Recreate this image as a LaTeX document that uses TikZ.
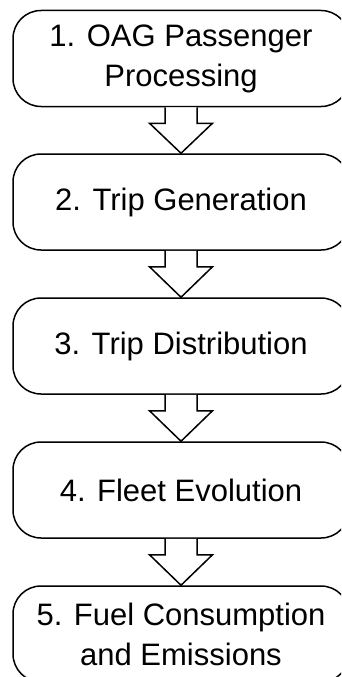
\documentclass[tikz,border=0pt]{standalone}
\usepackage{fontspec}
\setmainfont{Liberation Sans}
\usetikzlibrary{calc}
\begin{document}
\begin{tikzpicture}[x=1pt,y=-1pt,
  stepbox/.style={draw=black, line width=1.5pt, fill=white, rounded corners=28pt,
    minimum width=336pt, minimum height=96pt, inner sep=0pt, align=center,
    font=\fontsize{31}{40}\selectfont},
  flowarrow/.style={draw=black, line width=1.5pt, fill=white, line join=miter}]
\path[use as bounding box, clip] (0,0) rectangle (341,677);
\node[stepbox] (b1) at (181,58.5) {1. OAG Passenger\\Processing};
\node[stepbox] (b2) at (181,202) {2. Trip Generation};
\node[stepbox] (b3) at (181,346) {3. Trip Distribution};
\node[stepbox] (b4) at (181,490) {4. Fleet Evolution};
\node[stepbox] (b5) at (181,634) {5. Fuel Consumption\\and Emissions};
\foreach \a/\b in {b1/b2,b2/b3,b3/b4,b4/b5}{
  \draw[flowarrow] ($(\a.south)+(-16,0)$) -- ($(\a.south)+(-16,16)$) -- ($(\a.south)+(-31.5,16)$)
    -- (\b.north) -- ($(\a.south)+(31.5,16)$) -- ($(\a.south)+(16,16)$) -- ($(\a.south)+(16,0)$);
}
\end{tikzpicture}
\end{document}
